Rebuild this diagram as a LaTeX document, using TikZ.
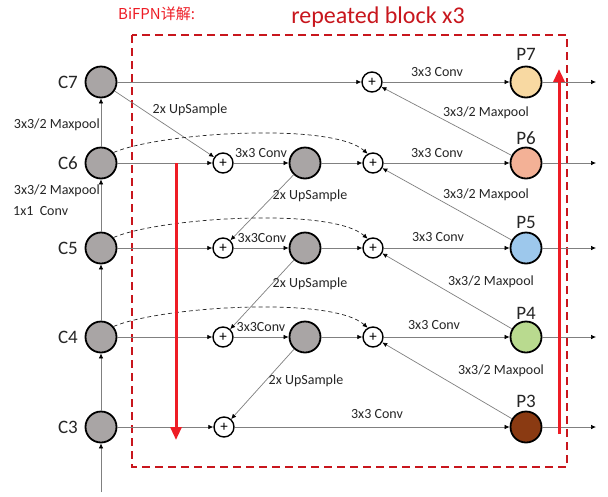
\documentclass[tikz,border=0pt]{standalone}
\usepackage{fontspec}
\setmainfont{Carlito}
\newfontfamily\cjk{Noto Sans CJK SC}
\usetikzlibrary{arrows.meta}
\definecolor{cgray}{HTML}{A9A5A5}
\definecolor{lgray}{HTML}{808080}
\definecolor{txt}{HTML}{262626}
\definecolor{boxred}{HTML}{C8161D}
\definecolor{brightred}{HTML}{EE1C25}
\definecolor{cP7}{HTML}{F8D9A2}
\definecolor{cP6}{HTML}{F3B196}
\definecolor{cP5}{HTML}{9DC8EC}
\definecolor{cP4}{HTML}{B9DA8F}
\definecolor{cP3}{HTML}{8A3A12}
\begin{document}
\begin{tikzpicture}[x=1pt,y=-1pt,
  feat/.style={circle,draw=black,line width=1.8pt,minimum size=31pt,inner sep=0pt,fill=cgray},
  plusn/.style={circle,draw=black,line width=1.4pt,minimum size=20pt,inner sep=0pt,fill=white,font=\fontsize{15}{15}\selectfont},
  conn/.style={draw=lgray,line width=0.7pt,-{Latex[length=5pt,width=4.5pt,color=black]}},
  dconn/.style={conn,draw=txt,dash pattern=on 4pt off 3pt},
  lbl/.style={font=\fontsize{14}{16}\selectfont,inner sep=0pt,text=txt},
  clbl/.style={font=\fontsize{19}{21}\selectfont,inner sep=0pt,text=txt},
  bigred/.style={draw=brightred,line width=3pt,-{Triangle[length=13pt,width=11pt]}}]
\useasboundingbox (0,0) rectangle (608,496);
\fill[white] (0,0) rectangle (608,496);

% dashed repeated block
\draw[boxred,line width=2pt,dash pattern=on 8pt off 5pt] (132,35) rectangle (567,467);
\node[font=\fontsize{24}{26}\selectfont,text=boxred,inner sep=0pt] (title) at (378,17) {repeated block x3};
\node[font=\cjk\fontsize{15}{17}\selectfont,text=brightred,inner sep=0pt,anchor=west] (sub) at (118,14) {BiFPN详解:};

% C column
\node[feat] (C7) at (101,82) {};
\node[feat] (C6) at (101,163) {};
\node[feat] (C5) at (101,248) {};
\node[feat] (C4) at (101,337) {};
\node[feat] (C3) at (101,427) {};
\node[clbl,anchor=east] (lC7) at (78,82) {C7};
\node[clbl,anchor=east] (lC6) at (78,163) {C6};
\node[clbl,anchor=east] (lC5) at (78,248) {C5};
\node[clbl,anchor=east] (lC4) at (78,337) {C4};
\node[clbl,anchor=east] (lC3) at (78,427) {C3};

% left plus
\node[plusn] (pL6) at (223,163) {+};
\node[plusn] (pL5) at (223,248) {+};
\node[plusn] (pL4) at (223,337) {+};
\node[plusn] (pL3) at (224,427) {+};
% middle
\node[feat] (M6) at (305,163) {};
\node[feat] (M5) at (305,248) {};
\node[feat] (M4) at (305,337) {};
% right plus
\node[plusn] (pR7) at (372,82) {+};
\node[plusn] (pR6) at (373,163) {+};
\node[plusn] (pR5) at (373,248) {+};
\node[plusn] (pR4) at (373,337) {+};
% P column
\node[feat,fill=cP7] (P7) at (526,82) {};
\node[feat,fill=cP6] (P6) at (526,163) {};
\node[feat,fill=cP5] (P5) at (526,248) {};
\node[feat,fill=cP4] (P4) at (526,337) {};
\node[feat,fill=cP3] (P3) at (526,427) {};
\node[clbl] (lP7) at (526,54) {P7};
\node[clbl] (lP6) at (526,138) {P6};
\node[clbl] (lP5) at (526,222) {P5};
\node[clbl] (lP4) at (526,313) {P4};
\node[clbl] (lP3) at (526,401) {P3};

\coordinate (in) at (101,492);
\coordinate (o7) at (596,82);
\coordinate (o6) at (596,163);
\coordinate (o5) at (596,248);
\coordinate (o4) at (596,337);
\coordinate (o3) at (596,427);

% backbone
\draw[conn] (in) -- (C3);
\draw[conn] (C3) -- (C4);
\draw[conn] (C4) -- (C5);
\draw[conn] (C5) -- (C6);
\draw[conn] (C6) -- (C7);
\node[lbl,anchor=east] (mp1) at (100,125) {3x3/2 Maxpool};
\node[lbl,anchor=east] (mp2) at (100,191) {3x3/2 Maxpool};
\node[lbl,anchor=west] (cv1) at (13,211) {1x1~~Conv};

% top-down
\draw[conn] (C7) -- (pR7);
\draw[conn] (C7) -- (pL6);
\node[lbl] (u7) at (190,110) {2x UpSample};
\draw[conn] (C6) -- (pL6);
\draw[conn] (C5) -- (pL5);
\draw[conn] (C4) -- (pL4);
\draw[conn] (C3) -- (pL3);
\draw[conn] (pL6) -- (M6);
\draw[conn] (pL5) -- (M5);
\draw[conn] (pL4) -- (M4);
\node[lbl] (k6) at (261,153) {3x3 Conv};
\node[lbl] (k5) at (262,238) {3x3Conv};
\node[lbl] (k4) at (261,327) {3x3Conv};
\draw[conn] (M6) -- (pL5);
\draw[conn] (M5) -- (pL4);
\draw[conn] (M4) -- (pL3);
\node[lbl] (u6) at (310,196) {2x UpSample};
\node[lbl] (u5) at (310,284) {2x UpSample};
\node[lbl] (u4) at (306,381) {2x UpSample};

% skip (dashed)
\draw[dconn] (C6.40) .. controls +(47,-20) and +(-36,-32) .. (pR6.120);
\draw[dconn] (C5.40) .. controls +(47,-20) and +(-36,-32) .. (pR5.120);
\draw[dconn] (C4.40) .. controls +(47,-20) and +(-36,-32) .. (pR4.120);

% middle to right plus
\draw[conn] (M6) -- (pR6);
\draw[conn] (M5) -- (pR5);
\draw[conn] (M4) -- (pR4);

% right plus to P
\draw[conn] (pR7) -- (P7);
\draw[conn] (pR6) -- (P6);
\draw[conn] (pR5) -- (P5);
\draw[conn] (pR4) -- (P4);
\draw[conn] (pL3) -- (P3);
\node[lbl] (r7) at (437,72) {3x3 Conv};
\node[lbl] (r6) at (437,153) {3x3 Conv};
\node[lbl] (r5) at (438,237) {3x3 Conv};
\node[lbl] (r4) at (434,325) {3x3 Conv};
\node[lbl] (r3) at (377,414) {3x3 Conv};

% bottom-up
\draw[conn] (P6) -- (pR7);
\draw[conn] (P5) -- (pR6);
\draw[conn] (P4) -- (pR5);
\draw[conn] (P3) -- (pR4);
\node[lbl] (d7) at (486,113) {3x3/2 Maxpool};
\node[lbl] (d6) at (486,195) {3x3/2 Maxpool};
\node[lbl] (d5) at (491,282) {3x3/2 Maxpool};
\node[lbl] (d4) at (501,371) {3x3/2 Maxpool};

% outputs
\draw[conn] (P7) -- (o7);
\draw[conn] (P6) -- (o6);
\draw[conn] (P5) -- (o5);
\draw[conn] (P4) -- (o4);
\draw[conn] (P3) -- (o3);

% big red arrows
\coordinate (ra1) at (176,163);
\coordinate (ra2) at (176,440);
\coordinate (rb1) at (559,434);
\coordinate (rb2) at (559,69);
\draw[bigred] (ra1) -- (ra2);
\draw[bigred] (rb1) -- (rb2);
\end{tikzpicture}
\end{document}
